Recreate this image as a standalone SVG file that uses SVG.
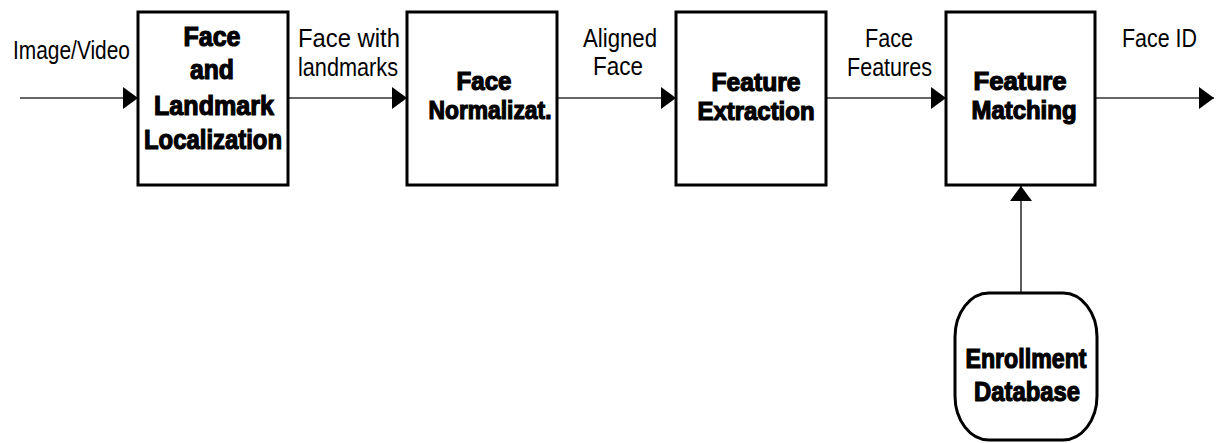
<svg xmlns="http://www.w3.org/2000/svg" width="1219" height="443" viewBox="0 0 1219 443">
<style>
.box{fill:#fff;stroke:#000;stroke-width:3}
.lbl{font-family:"Liberation Sans",Arial,sans-serif;font-size:26px;fill:#000}
.bt{font-family:"Liberation Sans",Arial,sans-serif;font-size:27px;font-weight:bold;fill:#000;stroke:#000;stroke-width:1.2;text-anchor:middle}
.bs{font-size:25px}
.con{stroke:#333;stroke-width:1.6;fill:none;marker-end:url(#ah)}
</style>
<defs>
<marker id="ah" viewBox="0 0 15 22" refX="15" refY="11" markerWidth="15" markerHeight="22" markerUnits="userSpaceOnUse" orient="auto">
<path d="M0,0 L15,11 L0,22 Z" fill="#000"/>
</marker>
</defs>
<rect width="1219" height="443" fill="#fff"/>
<g id="connectors">
<line class="con" x1="20" y1="98" x2="138" y2="98"/>
<line class="con" x1="288" y1="98" x2="407" y2="98"/>
<line class="con" x1="557" y1="98" x2="676" y2="98"/>
<line class="con" x1="826" y1="98" x2="946" y2="98"/>
<line class="con" x1="1095" y1="98" x2="1214" y2="98"/>
<line class="con" x1="1021" y1="293" x2="1021" y2="186"/>
</g>
<g id="labels">
<text class="lbl" x="13" y="59" textLength="117" lengthAdjust="spacingAndGlyphs">Image/Video</text>
<text class="lbl" x="298" y="47" textLength="102" lengthAdjust="spacingAndGlyphs">Face with</text>
<text class="lbl" x="298" y="76" textLength="100" lengthAdjust="spacingAndGlyphs">landmarks</text>
<text class="lbl" x="583" y="47" textLength="74" lengthAdjust="spacingAndGlyphs">Aligned</text>
<text class="lbl" x="593" y="75" textLength="50" lengthAdjust="spacingAndGlyphs">Face</text>
<text class="lbl" x="865" y="47" textLength="48" lengthAdjust="spacingAndGlyphs">Face</text>
<text class="lbl" x="847" y="76" textLength="85" lengthAdjust="spacingAndGlyphs">Features</text>
<text class="lbl" x="1122" y="47" textLength="75" lengthAdjust="spacingAndGlyphs">Face ID</text>
</g>
<g id="node-detect">
<rect class="box" x="138" y="12" width="150" height="173"/>
<text class="bt" x="212" y="46" textLength="57" lengthAdjust="spacingAndGlyphs">Face</text>
<text class="bt" x="212" y="79" textLength="44" lengthAdjust="spacingAndGlyphs">and</text>
<text class="bt" x="214" y="115" textLength="120" lengthAdjust="spacingAndGlyphs">Landmark</text>
<text class="bt" x="213" y="149" textLength="138" lengthAdjust="spacingAndGlyphs">Localization</text>
</g>
<g id="node-normalize">
<rect class="box" x="407" y="12" width="150" height="173"/>
<text class="bt bs" x="484" y="90" textLength="55" lengthAdjust="spacingAndGlyphs">Face</text>
<text class="bt bs" x="490" y="119" textLength="123" lengthAdjust="spacingAndGlyphs">Normalizat.</text>
</g>
<g id="node-extract">
<rect class="box" x="676" y="12" width="150" height="173"/>
<text class="bt bs" x="756" y="91" textLength="89" lengthAdjust="spacingAndGlyphs">Feature</text>
<text class="bt bs" x="756" y="120" textLength="117" lengthAdjust="spacingAndGlyphs">Extraction</text>
</g>
<g id="node-match">
<rect class="box" x="946" y="12" width="149" height="173"/>
<text class="bt bs" x="1020" y="90" textLength="93" lengthAdjust="spacingAndGlyphs">Feature</text>
<text class="bt bs" x="1024" y="119" textLength="105" lengthAdjust="spacingAndGlyphs">Matching</text>
</g>
<g id="node-db">
<rect class="box" x="955" y="293" width="142" height="147" rx="34" ry="44"/>
<text class="bt" x="1026" y="368" textLength="121" lengthAdjust="spacingAndGlyphs">Enrollment</text>
<text class="bt" x="1027" y="401" textLength="106" lengthAdjust="spacingAndGlyphs">Database</text>
</g>
</svg>
